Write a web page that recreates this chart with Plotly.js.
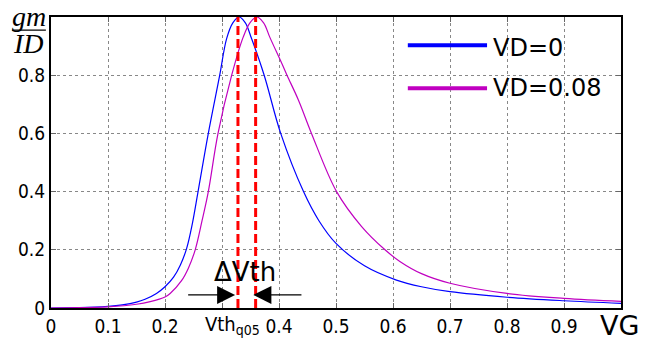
<!DOCTYPE html>
<html>
<head>
<meta charset="utf-8">
<script src="https://cdn.plot.ly/plotly-3.0.1.min.js"></script>
<style>html,body{margin:0;padding:0;background:#fff;}#chart{width:650px;height:339px;}</style>
</head>
<body>
<div id="chart"></div>
<script>
// VD = 0 curve
var vgBlue = [0, 0.05, 0.1, 0.125, 0.15, 0.165, 0.185, 0.2, 0.215, 0.227, 0.238, 0.248, 0.258, 0.276, 0.296, 0.308, 0.319, 0.330, 0.341, 0.352, 0.374, 0.403, 0.443, 0.47, 0.5, 0.55, 0.606, 0.65, 0.7, 0.8, 0.9, 1.0];
var gmBlue = [0, 0.001, 0.0055, 0.0105, 0.02, 0.03, 0.05, 0.073, 0.106, 0.148, 0.205, 0.29, 0.4, 0.6, 0.8, 0.925, 0.98, 1.0, 0.98, 0.925, 0.8, 0.6, 0.4, 0.3, 0.222, 0.145, 0.096, 0.073, 0.056, 0.037, 0.025, 0.016];
// VD = 0.08 curve
var vgMag = [0, 0.05, 0.1, 0.15, 0.174, 0.2, 0.209, 0.229, 0.241, 0.253, 0.265, 0.276, 0.293, 0.317, 0.337, 0.349, 0.361, 0.373, 0.384, 0.405, 0.414, 0.434, 0.457, 0.501, 0.545, 0.586, 0.612, 0.65, 0.7, 0.8, 0.9, 1.0];
var gmMag = [0, 0.001, 0.004, 0.013, 0.022, 0.038, 0.05, 0.094, 0.137, 0.2, 0.3, 0.4, 0.6, 0.8, 0.93, 0.98, 1.0, 0.98, 0.93, 0.84, 0.8, 0.715, 0.6, 0.4, 0.28, 0.2, 0.16, 0.118, 0.085, 0.05, 0.033, 0.023];
// threshold markers (peak positions)
var vthLines = [0.328, 0.359];
var xTickVals = [0, 0.1, 0.2, 0.3, 0.4, 0.5, 0.6, 0.7, 0.8, 0.9, 1.0];
var xTickText = ["0", "0.1", "0.2", "", "0.4", "0.5", "0.6", "0.7", "0.8", "0.9", ""];
var yTickVals = [0, 0.2, 0.4, 0.6, 0.8, 1.0];
var yTickText = ["0", "0.2", "0.4", "0.6", "0.8", ""];
var seriesNames = ["VD=0", "VD=0.08"];
var arrowY = 0.045;
var arrowTails = [0.238, 0.442];
var arrowHeads = [0.323, 0.355];

var traces = [
  {x: vgBlue, y: gmBlue, mode: 'lines', line: {color: '#0000ff', width: 1.2, shape: 'spline', smoothing: 1.0}, name: seriesNames[0], showlegend: false, hoverinfo: 'skip'},
  {x: vgMag, y: gmMag, mode: 'lines', line: {color: '#c000c0', width: 1.2, shape: 'spline', smoothing: 1.0}, name: seriesNames[1], showlegend: false, hoverinfo: 'skip'}
];
vthLines.forEach(function (v) {
  traces.push({x: [v, v], y: [0, 1], mode: 'lines', line: {color: '#ff0000', width: 3, dash: '9px,4px'}, showlegend: false, hoverinfo: 'skip'});
});

var tickFont = "Liberation Sans Narrow, DejaVu Sans Condensed, sans-serif";
var font = "DejaVu Sans, sans-serif";
var annotations = [];
for (var i = 0; i < 2; i++) {
  annotations.push({x: arrowHeads[i], y: arrowY, ax: arrowTails[i], ay: arrowY, xref: 'x', yref: 'y', axref: 'x', ayref: 'y',
    showarrow: true, arrowhead: 2, arrowsize: 3, arrowwidth: 1.2, arrowcolor: '#000', text: ''});
}
annotations.push({x: 0.340, y: 0.124, xref: 'x', yref: 'y', xanchor: 'center', yanchor: 'middle', text: 'ΔVth', showarrow: false, font: {family: font, size: 26, color: '#000'}});
annotations.push({x: 0.318, y: -0.058, xref: 'x', yref: 'paper', xanchor: 'center', yanchor: 'middle', text: 'Vth<sub>q05</sub>', showarrow: false, font: {family: "DejaVu Sans Condensed, sans-serif", size: 20, color: '#000'}});
annotations.push({x: 0.997, y: -0.06, xref: 'paper', yref: 'paper', xanchor: 'center', yanchor: 'middle', text: 'VG', showarrow: false, font: {family: font, size: 27, color: '#000'}});
// y-axis label gm/ID
annotations.push({x: -0.0386, y: (308 - 16) / 291, xref: 'paper', yref: 'paper', xanchor: 'center', yanchor: 'middle', text: '<i>gm</i>', showarrow: false, font: {family: 'Liberation Serif, serif', size: 28, color: '#000'}});
annotations.push({x: -0.0386, y: (308 - 43) / 291, xref: 'paper', yref: 'paper', xanchor: 'center', yanchor: 'middle', text: '<i>ID</i>', showarrow: false, font: {family: 'Liberation Serif, serif', size: 28, color: '#000'}});
// legend text
annotations.push({x: 0.772, y: 0.893, xref: 'paper', yref: 'paper', xanchor: 'left', yanchor: 'middle', text: seriesNames[0], showarrow: false, font: {family: font, size: 24, color: '#000'}});
annotations.push({x: 0.772, y: 0.755, xref: 'paper', yref: 'paper', xanchor: 'left', yanchor: 'middle', text: seriesNames[1], showarrow: false, font: {family: font, size: 24, color: '#000'}});

var shapes = [
  {type: 'line', xref: 'paper', yref: 'paper', x0: -0.068, x1: -0.009, y0: 0.955, y1: 0.955, line: {color: '#000', width: 1.2}},
  {type: 'line', xref: 'paper', yref: 'paper', x0: 0.626, x1: 0.765, y0: 0.903, y1: 0.903, line: {color: '#0000ff', width: 4}},
  {type: 'line', xref: 'paper', yref: 'paper', x0: 0.626, x1: 0.765, y0: 0.755, y1: 0.755, line: {color: '#c000c0', width: 4}}
];

var axisCommon = {
  showline: true, mirror: 'ticks', linecolor: '#000', linewidth: 2,
  ticks: 'inside', ticklen: 5, tickcolor: '#666', tickwidth: 1,
  showgrid: true, gridcolor: '#888', griddash: 'dot', gridwidth: 1,
  zeroline: false, tickfont: {family: tickFont, size: 19, color: '#000'}
};

var layout = {
  width: 650, height: 339,
  margin: {l: 51, r: 29, t: 17, b: 31},
  paper_bgcolor: '#fff', plot_bgcolor: '#fff',
  showlegend: false,
  xaxis: Object.assign({}, axisCommon, {range: [0, 1], tickmode: 'array', tickvals: xTickVals, ticktext: xTickText}),
  yaxis: Object.assign({}, axisCommon, {range: [0, 1], tickmode: 'array', tickvals: yTickVals, ticktext: yTickText}),
  annotations: annotations,
  shapes: shapes
};
Plotly.newPlot('chart', traces, layout, {staticPlot: true, displayModeBar: false});
</script>
</body>
</html>
